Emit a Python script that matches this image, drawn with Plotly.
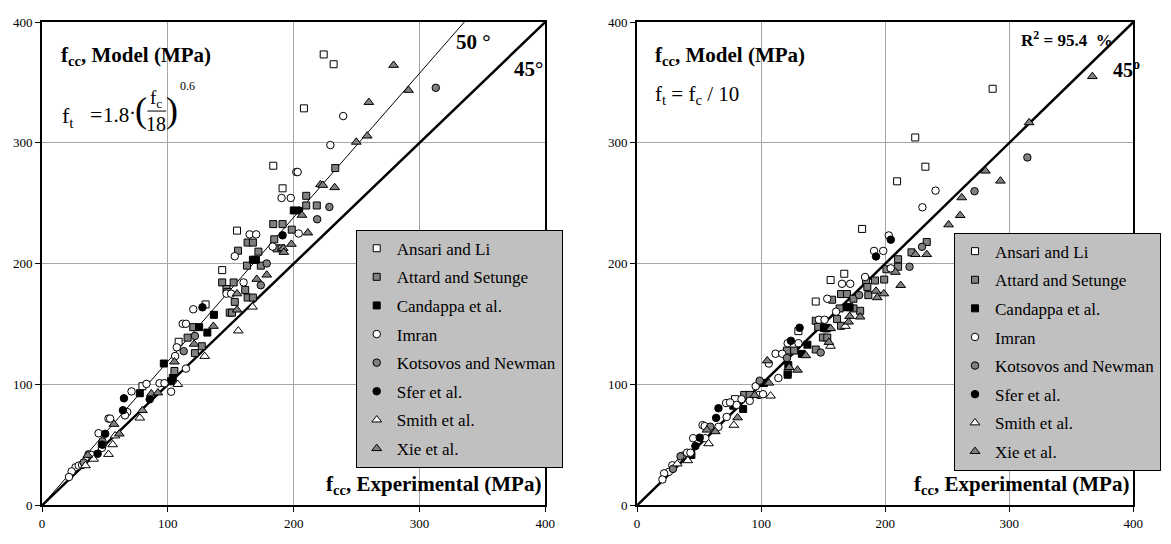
import numpy as np
import plotly.graph_objects as go

W, H = 1171, 544
FONT = "Liberation Serif"

# ---------------- data: panel (a) f_t = 1.8 (f_c/18)^0.6 ----------------
ansari_x_a = [223.9, 231.8, 208.2, 183.8, 191.2, 155.0, 143.2, 130.0, 108.6, 79.8]
ansari_y_a = [373.2, 365.1, 328.6, 281.1, 262.4, 227.4, 194.7, 166.3, 135.4, 98.6]

attard_x_a = [233.1, 210.0, 210.0, 218.4, 198.5, 183.8, 191.2, 184.6, 186.4, 190.4, 163.4, 167.6, 155.8,
              172.0, 162.9, 173.9, 143.2, 152.3, 146.6, 161.5, 153.2, 163.4, 167.6, 149.2, 151.0, 147.2,
              120.2, 127.0, 121.5, 105.2, 115.7]
attard_y_a = [279.2, 256.2, 248.2, 248.2, 228.2, 232.8, 232.8, 220.2, 212.7, 212.7, 217.5, 217.5, 210.8,
              210.0, 198.4, 198.4, 184.5, 184.5, 179.1, 178.3, 168.4, 172.0, 172.0, 159.5, 159.5, 176.5,
              147.5, 131.7, 126.0, 111.2, 138.8]

candappa_x_a = [200.1, 167.6, 170.0, 136.6, 124.9, 131.4, 96.8, 103.9, 102.6, 77.7]
candappa_y_a = [244.1, 203.3, 203.3, 157.7, 147.5, 143.0, 117.4, 105.4, 102.7, 92.8]

imran_x_a = [239.4, 229.2, 202.1, 203.2, 190.4, 197.7, 204.0, 183.3, 165.0, 170.2, 153.2, 160.2, 146.6,
             150.3, 120.2, 111.8, 114.4, 114.4, 107.1, 105.8, 102.6, 83.0, 93.4, 97.3, 71.1, 67.7, 65.9,
             52.8, 54.1, 44.9, 47.6, 48.4, 37.0, 39.1, 26.6, 29.2, 31.8, 23.5, 21.4]
imran_y_a = [322.2, 298.2, 275.9, 275.9, 254.4, 254.4, 225.0, 214.2, 224.3, 224.3, 206.2, 184.5, 175.2,
             175.2, 162.3, 150.3, 150.3, 113.2, 130.8, 123.6, 94.1, 100.5, 101.1, 101.1, 94.3, 77.2, 74.5,
             71.8, 71.8, 59.7, 47.6, 50.3, 42.3, 41.7, 31.5, 32.9, 33.4, 28.1, 23.5]

kotsovos_x_a = [313.0, 228.4, 218.7, 178.6, 173.9, 121.5, 112.6, 48.0, 33.1]
kotsovos_y_a = [345.6, 247.0, 236.8, 200.2, 182.2, 140.2, 127.6, 53.0, 35.5]

sfer_x_a = [204.3, 191.2, 127.5, 65.1, 64.3, 85.6, 50.2, 47.6, 44.2]
sfer_y_a = [244.1, 223.5, 163.9, 88.6, 78.7, 87.8, 59.2, 50.3, 42.8]

smith_x_a = [167.3, 156.0, 129.3, 107.9, 77.7, 58.0, 56.2, 52.8, 41.0, 34.5]
smith_y_a = [164.2, 144.5, 123.4, 100.2, 72.4, 57.6, 50.3, 42.3, 38.3, 32.9]

xie_x_a = [279.5, 291.3, 259.8, 258.5, 249.8, 221.3, 223.2, 232.6, 206.6, 211.3, 191.7, 192.2, 198.2,
           170.7, 178.6, 155.0, 155.0, 136.2, 120.9, 105.2, 86.9, 92.1, 79.8, 57.2, 61.4, 36.3]
xie_y_a = [364.3, 343.6, 333.6, 305.8, 300.7, 265.5, 265.0, 263.1, 240.2, 225.6, 212.7, 209.5, 216.2,
           187.2, 190.7, 175.2, 161.8, 148.3, 133.5, 118.8, 92.4, 93.2, 78.6, 67.2, 59.2, 41.5]

# ---------------- data: panel (b) f_t = f_c / 10 ----------------
ansari_x_b = [130.0, 144.0, 156.0, 167.0, 181.4, 209.6, 224.2, 232.4, 286.6, 78.9]
ansari_y_b = [144.2, 168.7, 186.5, 191.7, 228.8, 268.2, 304.5, 280.3, 344.8, 87.9]

attard_x_b = [233.5, 221.2, 210.4, 210.4, 201.0, 184.6, 191.8, 199.2, 185.6, 164.4, 169.2, 186.4, 157.2,
              174.4, 179.8, 161.2, 149.8, 153.3, 163.3, 174.4, 144.0, 164.4, 146.0, 152.4, 144.0, 120.8,
              126.6, 121.4, 86.3, 90.8]
attard_y_b = [218.0, 209.4, 203.7, 197.5, 195.4, 186.1, 186.1, 186.9, 180.8, 174.9, 174.9, 174.0, 170.2,
              171.0, 161.0, 154.2, 138.9, 138.9, 163.0, 163.0, 152.8, 148.6, 147.7, 146.4, 129.0, 128.1,
              128.1, 109.9, 91.4, 91.4]

candappa_x_b = [169.2, 171.3, 150.6, 153.3, 137.3, 121.9, 121.4, 102.3, 77.6, 85.5, 43.8, 132.8]
candappa_y_b = [164.0, 164.0, 146.9, 146.9, 133.0, 116.1, 108.1, 101.3, 82.5, 79.8, 41.7, 125.4]

imran_x_b = [240.6, 230.0, 202.9, 191.0, 198.4, 204.5, 183.8, 165.2, 171.8, 153.3, 160.4, 146.6, 151.1,
             121.4, 130.1, 111.6, 117.0, 106.2, 113.9, 95.6, 98.3, 101.5, 90.8, 84.2, 80.2, 71.7, 74.9,
             72.2, 52.8, 54.5, 65.6, 55.0, 45.2, 36.4, 40.3, 43.0, 28.4, 25.7, 21.8, 20.4]
imran_y_b = [260.5, 246.7, 223.4, 210.6, 210.6, 196.2, 189.0, 183.4, 183.4, 171.0, 160.3, 153.6, 153.6,
             134.2, 134.2, 125.5, 125.5, 117.4, 105.4, 98.6, 91.4, 92.0, 86.5, 87.9, 83.1, 84.7, 85.2,
             73.2, 66.4, 65.6, 65.0, 55.6, 55.6, 41.0, 43.6, 43.6, 33.2, 27.8, 26.5, 21.4]

kotsovos_x_b = [314.6, 272.0, 229.7, 219.6, 179.0, 148.0, 120.8, 98.8, 59.0, 35.0, 28.9]
kotsovos_y_b = [288.0, 260.0, 214.0, 197.5, 174.0, 126.5, 122.0, 103.2, 65.1, 40.6, 30.2]

sfer_x_b = [204.5, 192.6, 131.0, 124.0, 65.6, 63.7, 50.5, 47.0]
sfer_y_b = [219.9, 206.0, 147.0, 136.2, 80.4, 72.4, 56.0, 49.1]

smith_x_b = [155.9, 167.9, 107.6, 78.0, 57.6, 40.9, 32.4]
smith_y_b = [131.8, 148.3, 90.6, 66.4, 51.1, 37.1, 34.4]

xie_x_b = [367.0, 316.0, 280.8, 292.9, 261.7, 260.4, 251.1, 224.4, 233.5, 208.2, 212.5, 192.6, 193.6,
           198.9, 171.3, 179.8, 170.5, 156.0, 154.6, 136.0, 104.9, 122.7, 129.3, 106.2, 94.8, 81.0,
           63.0, 56.3]
xie_y_b = [355.0, 316.8, 276.8, 268.5, 254.7, 240.0, 232.3, 207.7, 207.7, 193.0, 182.1, 177.4, 172.0,
           175.2, 156.5, 156.0, 151.8, 146.4, 135.0, 124.0, 119.7, 114.2, 112.0, 101.3, 91.1, 72.6,
           61.1, 62.4]

series_names = ["Ansari and Li", "Attard and Setunge", "Candappa et al.", "Imran",
                "Kotsovos and Newman", "Sfer et al.", "Smith et al.", "Xie et al."]
tick_vals = [0, 100, 200, 300, 400]
ref_x = [0, 400]
angles = {"a": [50, 45], "b": [45]}

panel_a = [(ansari_x_a, ansari_y_a), (attard_x_a, attard_y_a), (candappa_x_a, candappa_y_a),
           (imran_x_a, imran_y_a), (kotsovos_x_a, kotsovos_y_a), (sfer_x_a, sfer_y_a),
           (smith_x_a, smith_y_a), (xie_x_a, xie_y_a)]
panel_b = [(ansari_x_b, ansari_y_b), (attard_x_b, attard_y_b), (candappa_x_b, candappa_y_b),
           (imran_x_b, imran_y_b), (kotsovos_x_b, kotsovos_y_b), (sfer_x_b, sfer_y_b),
           (smith_x_b, smith_y_b), (xie_x_b, xie_y_b)]

GRAY = "#808080"
styles = [("square", "white", 7), ("square", GRAY, 7), ("square", "black", 7),
          ("circle", "white", 7.5), ("circle", GRAY, 7.5), ("circle", "black", 7.5),
          ("triangle-up", "white", 8.5), ("triangle-up", GRAY, 8.5)]

fig = go.Figure()

# reference lines (45 and 50 degrees through the origin)
for key, xa, ya in [("a", "x", "y"), ("b", "x2", "y2")]:
    for ang in angles[key]:
        rx = np.array(ref_x, dtype=float)
        ry = np.tan(np.radians(ang)) * rx
        fig.add_trace(go.Scatter(x=rx, y=ry, mode="lines", xaxis=xa, yaxis=ya,
                                 line=dict(color="black", width=2.5 if ang == 45 else 1),
                                 showlegend=False, hoverinfo="skip"))

for key, panel, xa, ya, leg in [("a", panel_a, "x", "y", "legend"), ("b", panel_b, "x2", "y2", "legend2")]:
    for name, (sx, sy), (sym, col, sz) in zip(series_names, panel, styles):
        fig.add_trace(go.Scatter(
            x=sx, y=sy, mode="markers", name=name, xaxis=xa, yaxis=ya,
            legend=leg, legendgroup=key + name,
            marker=dict(symbol=sym, color=col, size=sz, line=dict(color="black", width=1)),
        ))

xdom_a = [39.5 / W, 548.3 / W]
xdom_b = [641.2 / W, 1143.0 / W]
ydom = [1 - 512.5 / H, 1 - 15.5 / H]

axis_common = dict(range=[0, 400], tickvals=tick_vals, ticks="outside", ticklen=5, tickwidth=1,
                   tickcolor="black", showgrid=True, gridcolor="#a6a6a6", gridwidth=1,
                   zeroline=False, showline=True, mirror=True, linecolor="black",
                   tickfont=dict(family=FONT, size=13, color="black"), fixedrange=True)

legend_common = dict(xanchor="right", yanchor="top", bgcolor="#C0C0C0",
                     bordercolor="black", borderwidth=1, traceorder="grouped", tracegroupgap=3.5,
                     font=dict(family=FONT, size=17, color="black"))

fig.update_layout(
    width=W, height=H, margin=dict(l=0, r=0, t=0, b=0),
    paper_bgcolor="white", plot_bgcolor="white",
    xaxis=dict(domain=xdom_a, anchor="y", linewidth=1.5, **axis_common),
    yaxis=dict(domain=ydom, anchor="x", linewidth=2, **axis_common),
    xaxis2=dict(domain=xdom_b, anchor="y2", linewidth=1.5, **axis_common),
    yaxis2=dict(domain=ydom, anchor="x2", linewidth=2, **axis_common),
    legend=dict(x=566 / W, y=1 - 229 / H, **legend_common),
    legend2=dict(x=1171 / W, y=1 - 232 / H, **legend_common),
)


def ann(text, x, y, size, xanchor="left", yanchor="middle", bold=False):
    fig.add_annotation(text=("<b>%s</b>" % text) if bold else text, x=x / W, y=1 - y / H,
                       xref="paper", yref="paper", xanchor=xanchor, yanchor=yanchor,
                       showarrow=False, borderpad=0,
                       font=dict(family=FONT, size=size, color="black"))


# panel a texts
ann("f<sub>cc</sub>, Model (MPa)", 58, 50, 21, bold=True)
ann("f<sub>cc</sub>, Experimental (MPa)", 545, 492, 21, xanchor="right", bold=True)
ann("50 °", 457, 36, 21, bold=True)
ann("45°", 516, 64, 21, bold=True)
# formula f_t = 1.8 (f_c / 18)^0.6
ann("f<sub>t</sub>", 59, 113, 22)
ann("=", 87, 111, 22)
ann("1.8", 100, 111, 21)
ann("·", 131, 109, 21, xanchor="center")
ann("(", 140, 106, 36, xanchor="center")
ann(")", 171, 106, 36, xanchor="center")
ann("f<sub>c</sub>", 155, 95, 19, xanchor="center")
ann("18", 155, 120, 20, xanchor="center")
ann("0.6", 178, 81, 12)
fig.add_shape(type="line", xref="paper", yref="paper", x0=146 / W, x1=165 / W,
              y0=1 - 107 / H, y1=1 - 107 / H, line=dict(color="black", width=1))

# panel b texts
ann("f<sub>cc</sub>, Model (MPa)", 658, 50, 21, bold=True)
ann("f<sub>cc</sub>, Experimental (MPa)", 1140, 492, 21, xanchor="right", bold=True)
ann("f<sub>t</sub> = f<sub>c</sub> / 10", 658, 90, 21)
ann("R<sup>2</sup> = 95.4  %", 1028, 33, 17, bold=True)
ann("45<sup>o</sup>", 1121, 64, 20, bold=True)

fig.write_html("out.html")
